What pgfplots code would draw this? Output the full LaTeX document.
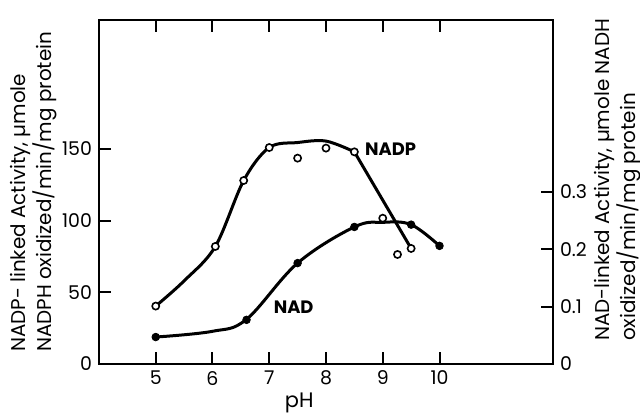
\documentclass[border=0pt]{standalone}
\usepackage{pgfplots}
\pgfplotsset{compat=1.18}
\usepackage{fontspec}
\setmainfont{Poppins}
\begin{document}
\begin{tikzpicture}
\pgfplotsset{
  common/.style={
    width=227bp, height=172bp, scale only axis,
    at={(0,0)}, anchor=south west,
    xmin=4, xmax=12,
    tick align=inside,
    major tick length=6bp,
    every tick/.style={line width=1bp, black},
    axis line style={line width=1bp},
    tick label style={font=\fontsize{9.5}{11}\selectfont},
    clip=false,
  }
}
% right axis: NAD-linked activity
\begin{axis}[common,
  ymin=0, ymax=0.6,
  hide x axis,
  axis y line*=right,
  y axis line style={-, line width=1bp},
  ytick={0,0.1,0.2,0.3}, yticklabels={0,0.1,0.2,0.3},
]
\addplot[line width=1.5bp, smooth, tension=0.6] coordinates {
  (5,0.047) (6,0.057) (6.6,0.078) (7.5,0.176) (8.5,0.239) (9,0.247) (9.5,0.243) (10,0.206)};
\addplot[only marks, mark=*, mark size=1.9bp, mark options={fill=black, draw=black}] coordinates {
  (5,0.047) (6.6,0.077) (7.5,0.176) (8.5,0.239) (9.5,0.243) (10,0.206)};
\coordinate (rl) at (rel axis cs:1.143,0.535);
\end{axis}
% left axis: NADP-linked activity
\begin{axis}[common,
  ymin=0, ymax=240,
  xtick={5,6,7,8,9,10}, xticklabels={5,6,7,8,9,10},
  ytick={0,50,100,150}, yticklabels={0,50,100,150},
  ytick pos=left,
]
\addplot[line width=1.5bp, smooth, tension=0.55] coordinates {
  (5,40.4) (5.5,58) (6.05,82) (6.55,128) (7,151) (7.5,154.5) (8,155.5) (8.5,148)};
\addplot[line width=1.5bp] coordinates {(8.5,148) (9.5,80.6)};
\addplot[only marks, mark=*, mark size=1.8bp, mark options={fill=white, draw=black, line width=0.8bp}] coordinates {
  (5,40.4) (6.05,82) (6.55,128) (7,151) (7.5,143.6) (8,150.6) (8.5,148) (9,101.7) (9.26,76.4) (9.5,80.6)};
\node[font=\bfseries\fontsize{9}{10}\selectfont] at (axis cs:9.14,150) {NADP};
\node[font=\bfseries\fontsize{9}{10}\selectfont] at (axis cs:7.43,39.8) {NAD};
\node[font=\fontsize{10.5}{12}\selectfont] at (rel axis cs:0.441,-0.113) {pH};
\node[rotate=90, align=left, font=\fontsize{10}{11}\selectfont, inner sep=0pt] at (rel axis cs:-0.143,0.5)
  {NADP- linked Activity, µmole\\NADPH oxidized/min/mg protein};
\node[rotate=90, align=left, font=\fontsize{10}{11}\selectfont, inner sep=0pt] at (rl)
  {NAD-linked Activity, µmole NADH\\oxidized/min/mg protein};
\coordinate (bbsw) at (rel axis cs:-0.218,-0.1424);
\coordinate (bbne) at (rel axis cs:1.1916,1.058);
\end{axis}
\pgfresetboundingbox
\useasboundingbox (bbsw) rectangle (bbne);
\end{tikzpicture}
\end{document}
